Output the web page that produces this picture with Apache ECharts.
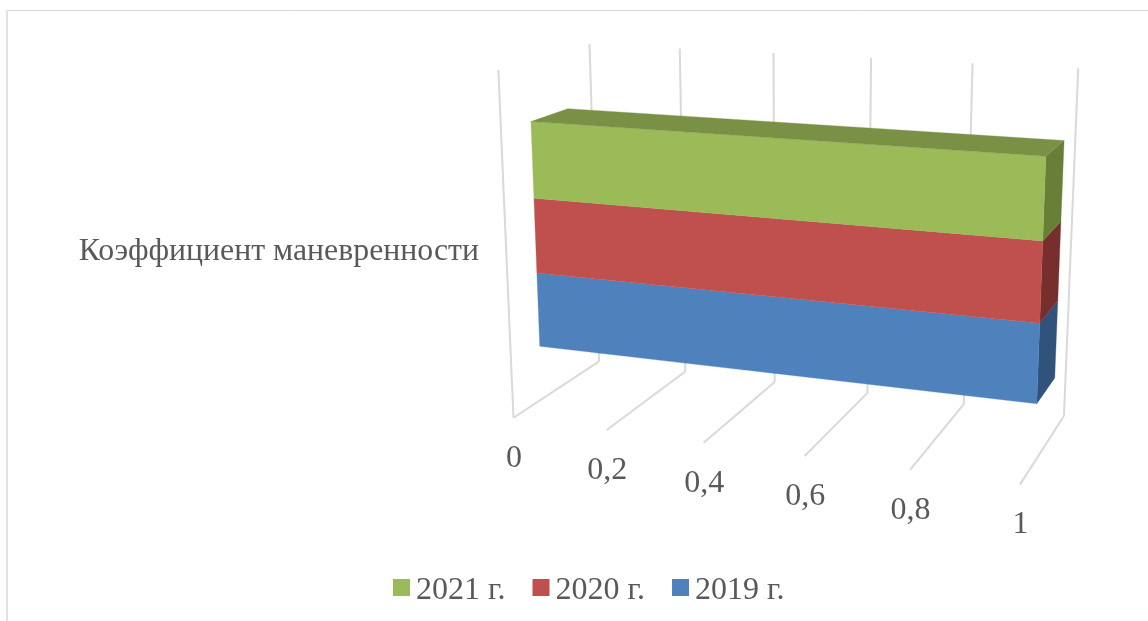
<!DOCTYPE html>
<html><head><meta charset="utf-8">
<style>html,body{margin:0;padding:0;background:#fff}#c{width:1148px;height:621px}</style>
<script src="https://cdn.jsdelivr.net/npm/echarts@6/dist/echarts.min.js"></script>
</head><body><div id="c"></div>
<script>
const categories = ['Коэффициент маневренности'];
const seriesNames = ['2019 г.', '2020 г.', '2021 г.'];
const values2019 = [1];
const values2020 = [1];
const values2021 = [1];
const xTicks = [0, 0.2, 0.4, 0.6, 0.8, 1];
const xTickLabels = ['0', '0,2', '0,4', '0,6', '0,8', '1'];

// Perspective camera: model box (x along value axis, y up, z into depth) -> screen
const calib = [
 [0,0,0,514,417],[.2,0,0,607,430],[.4,0,0,703,443],[.6,0,0,805,456],[.8,0,0,910,470],[1,0,0,1020,485],
 [0,0,1,599,362],[.2,0,1,685,372],[.4,0,1,774,382],[.6,0,1,868,393],[.8,0,1,964,404],[1,0,1,1064,415],
 [0,1,1,590,44],[.2,1,1,680,48],[.4,1,1,773,53],[.6,1,1,871,58],[.8,1,1,973,63],[1,1,1,1078,69],
 [0,1,0,498,70]
];
function fit(pts){
  const n=11, A=Array.from({length:n},()=>new Array(n+1).fill(0));
  function add(r,b){for(let i=0;i<n;i++){for(let j=0;j<n;j++)A[i][j]+=r[i]*r[j];A[i][n]+=r[i]*b;}}
  pts.forEach(([X,Y,Z,u0,v0])=>{const u=u0/1000,v=v0/1000;
    add([X,Y,Z,1,0,0,0,0,-u*X,-u*Y,-u*Z],u);
    add([0,0,0,0,X,Y,Z,1,-v*X,-v*Y,-v*Z],v);});
  for(let c=0;c<n;c++){let m=c;for(let r=c+1;r<n;r++)if(Math.abs(A[r][c])>Math.abs(A[m][c]))m=r;
    [A[c],A[m]]=[A[m],A[c]];
    for(let r=0;r<n;r++){if(r===c)continue;const f=A[r][c]/A[c][c];for(let k=c;k<=n;k++)A[r][k]-=f*A[c][k];}}
  return A.map((row,i)=>row[n]/row[i]);
}
const P=fit(calib);
function proj(X,Y,Z){const w=P[8]*X+P[9]*Y+P[10]*Z+1;
  return [1000*(P[0]*X+P[1]*Y+P[2]*Z+P[3])/w,1000*(P[4]*X+P[5]*Y+P[6]*Z+P[7])/w];}

const G={left:484,top:52,width:560,height:400};
const FONT='"Liberation Serif"';
const TXT='#595959', WALL='#D9D9D9';
const barBase=0.163, barStep=0.222, zFront=0.31, zBack=0.72;
const shades=[
 {front:'#4F81BD',side:'#30527B'},
 {front:'#C0504D',side:'#772F2D'},
 {front:'#9BBB59',side:'#677F36',top:'#7A9045'}
];
function barRender(i){
  return function(params,api){
    const end=api.coord([api.value(0),categories[0]]), start=api.coord([0,categories[0]]);
    const x0=(start[0]-G.left)/G.width, x1=(end[0]-G.left)/G.width;
    const band=api.size([0,1])[1];
    const yc=(G.top+G.height-start[1])/G.height;
    const y0=yc+(barBase+i*barStep-0.5)*band/G.height, y1=y0+barStep*band/G.height;
    const poly=(pts,fill)=>({type:'polygon',shape:{points:pts},style:{fill:fill,stroke:fill,lineWidth:0.3}});
    const ch=[
      poly([proj(x1,y0,zFront),proj(x1,y0,zBack),proj(x1,y1,zBack),proj(x1,y1,zFront)],shades[i].side),
      poly([proj(x0,y0,zFront),proj(x1,y0,zFront),proj(x1,y1,zFront),proj(x0,y1,zFront)],shades[i].front)
    ];
    if(shades[i].top) ch.push(poly([proj(x0,y1,zFront),proj(x1,y1,zFront),proj(x1,y1,zBack),proj(x0,y1,zBack)],shades[i].top));
    return {type:'group',children:ch};
  };
}
function wallRender(params,api){
  const c=api.coord([api.value(0),categories[0]]);
  const x=(c[0]-G.left)/G.width, ch=[];
  const line=(a,b)=>({type:'line',shape:{x1:a[0],y1:a[1],x2:b[0],y2:b[1]},style:{stroke:WALL,lineWidth:2,fill:null}});
  ch.push(line(proj(x,0,1),proj(x,1,1)));
  ch.push(line(proj(x,0,0),proj(x,0,1)));
  if(params.dataIndex===0) ch.push(line(proj(x,0,0),proj(x,1,0)));
  const t=proj(x,0,0);
  ch.push({type:'text',x:t[0]+0.5,y:t[1]+40.5,style:{text:xTickLabels[params.dataIndex],fontFamily:FONT,fontSize:32,fill:TXT,align:'center',verticalAlign:'middle'}});
  return {type:'group',children:ch};
}
const dataByYear=[values2019,values2020,values2021];
const option={
  animation:false,
  backgroundColor:'#fff',
  tooltip:{show:false},
  grid:G,
  xAxis:{type:'value',min:0,max:1,interval:0.2,show:false},
  yAxis:{type:'category',data:categories,axisLine:{show:false},axisTick:{show:false},splitLine:{show:false},
    axisLabel:{margin:5,fontFamily:FONT,fontSize:31.8,color:TXT}},
  legend:{data:[seriesNames[2],seriesNames[1],seriesNames[0]],left:388,top:570,itemWidth:17,itemHeight:17,itemGap:27,icon:'rect',
    formatter:'{t|{name}}',
    textStyle:{fontFamily:FONT,fontSize:32,color:TXT,
      rich:{t:{fontFamily:FONT,fontSize:32,color:TXT,padding:[7,0,0,1]}}},selectedMode:false},
  graphic:[
    {type:'line',shape:{x1:6,y1:10.5,x2:1148,y2:10.5},style:{stroke:'#D9D9D9',lineWidth:1}},
    {type:'rect',shape:{x:6,y:10,width:2,height:611},style:{fill:'#E2E2E2'}}
  ],
  series:[
    {type:'custom',name:'walls',clip:false,silent:true,z:1,encode:{x:0},data:xTicks.map(v=>[v]),renderItem:wallRender}
  ].concat(seriesNames.map((n,i)=>({type:'custom',name:n,clip:false,silent:true,z:2+i,
    itemStyle:{color:shades[i].front},encode:{x:0},
    data:dataByYear[i].map(v=>[v]),renderItem:barRender(i)})))
};
echarts.init(document.getElementById('c'),null,{renderer:'canvas'}).setOption(option);
</script></body></html>
